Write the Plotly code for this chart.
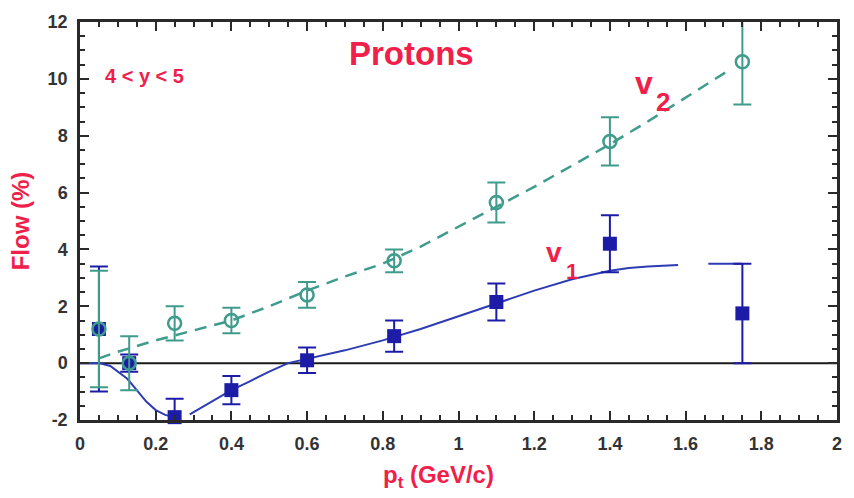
import plotly.graph_objects as go

# ---- data ----
pt = [0.05, 0.13, 0.25, 0.40, 0.60, 0.83, 1.10, 1.40, 1.75]
v1 = [1.2, 0.0, -1.9, -0.95, 0.1, 0.95, 2.15, 4.2, 1.75]
v1_err = [2.2, 0.3, 0.65, 0.5, 0.45, 0.55, 0.65, 1.0, 1.75]
v2 = [1.2, 0.0, 1.4, 1.5, 2.4, 3.6, 5.65, 7.8, 10.6]
v2_err = [2.05, 0.95, 0.6, 0.45, 0.45, 0.4, 0.7, 0.85, 1.5]

v1_curve_x = [0, 0.05, 0.08, 0.1, 0.125, 0.15, 0.175, 0.2, 0.225, 0.25, None, 0.29, 0.35, 0.4,
              0.45, 0.5, 0.55, 0.6, 0.7, 0.8, 0.9, 1.0, 1.1, 1.2, 1.3, 1.4, 1.45, 1.5, 1.58,
              None, 1.66, 1.75]
v1_curve_y = [0, 0, -0.1, -0.3, -0.55, -0.95, -1.35, -1.65, -1.82, -1.9, None, -1.8, -1.35, -0.95,
              -0.63, -0.3, 0.0, 0.15, 0.45, 0.8, 1.2, 1.65, 2.1, 2.55, 2.95, 3.25, 3.35, 3.4, 3.45,
              None, 3.5, 3.5]

v2_curve_x = [0.05, 0.1, 0.15, 0.2, 0.3, 0.4, 0.5, 0.6, 0.7, 0.8, 0.9, 1.0, 1.1, 1.2, 1.3, 1.4,
              1.5, 1.6, 1.72]
v2_curve_y = [0.17, 0.4, 0.6, 0.8, 1.15, 1.5, 2.0, 2.55, 3.05, 3.5, 4.1, 4.8, 5.5, 6.2, 6.95, 7.7,
              8.5, 9.35, 10.35]

x_tickvals = [0, 0.2, 0.4, 0.6, 0.8, 1, 1.2, 1.4, 1.6, 1.8, 2]
x_ticktext = ["0", "0.2", "0.4", "0.6", "0.8", "1", "1.2", "1.4", "1.6", "1.8", "2"]
y_tickvals = [-2, 0, 2, 4, 6, 8, 10, 12]
y_ticktext = ["-2", "0", "2", "4", "6", "8", "10", "12"]

TEAL = "#3f9c8c"
BLUE = "#1c1ca6"
BLUE_LINE = "#2e3cb4"
RED = "#f0204a"
AXC = "#2a2a2a"
FONT = "Liberation Sans"

fig = go.Figure()

# zero line
fig.add_trace(go.Scatter(x=[0, 2], y=[0, 0], mode="lines",
                         line=dict(color="#1a1a1a", width=2), hoverinfo="skip", showlegend=False))

# v1 curve
fig.add_trace(go.Scatter(x=v1_curve_x, y=v1_curve_y, mode="lines",
                         line=dict(color=BLUE_LINE, width=2), showlegend=False, connectgaps=False))
# v2 curve
fig.add_trace(go.Scatter(x=v2_curve_x, y=v2_curve_y, mode="lines",
                         line=dict(color=TEAL, width=2.5, dash="12px,8px"), showlegend=False))

# v1 points
fig.add_trace(go.Scatter(x=pt, y=v1, mode="markers",
                         marker=dict(symbol="square", size=14, color=BLUE, line=dict(width=0)),
                         error_y=dict(type="data", array=v1_err, color=BLUE, thickness=2, width=9),
                         showlegend=False, cliponaxis=False))
# v2 points
fig.add_trace(go.Scatter(x=pt, y=v2, mode="markers",
                         marker=dict(symbol="circle-open", size=13, color=TEAL, line=dict(width=2.5, color=TEAL)),
                         error_y=dict(type="data", array=v2_err, color=TEAL, thickness=2, width=9),
                         showlegend=False, cliponaxis=False))

axis_common = dict(showline=True, linecolor=AXC, linewidth=2.5, mirror="allticks",
                   ticks="inside", ticklen=9, tickwidth=2, tickcolor=AXC,
                   showgrid=False, zeroline=False,
                   tickfont=dict(family=FONT, size=18, color="#333333", weight="bold"))

fig.update_xaxes(range=[0, 2], tickvals=x_tickvals, ticktext=x_ticktext, ticklabelstandoff=6,
                 minor=dict(dtick=0.05, ticklen=5, tickwidth=1.5, tickcolor=AXC, ticks="inside"),
                 **axis_common)
fig.update_yaxes(range=[-2, 12], tickvals=y_tickvals, ticktext=y_ticktext, ticklabelstandoff=6,
                 minor=dict(dtick=0.5, ticklen=5, tickwidth=1.5, tickcolor=AXC, ticks="inside"),
                 title=dict(text="Flow (%)", standoff=12,
                            font=dict(family=FONT, size=24, color=RED, weight="bold")),
                 **axis_common)

# x-axis title (placed to match the original, slightly left of centre)
fig.add_annotation(x=0.474, y=-0.141, xref="paper", yref="paper", text="p<sub>t</sub> (GeV/c)",
                   showarrow=False, yanchor="middle",
                   font=dict(family=FONT, size=24, color=RED, weight="bold"))

fig.add_annotation(x=0.876, y=10.89, xref="x", yref="y", text="Protons", showarrow=False,
                   font=dict(family=FONT, size=33, color=RED, weight="bold"))
fig.add_annotation(x=0.061, y=10.1, xref="x", yref="y", text="4 &lt; y &lt; 5", showarrow=False,
                   xanchor="left", font=dict(family=FONT, size=20, color=RED, weight="bold"))
# v2 label
fig.add_annotation(x=1.491, y=9.86, xref="x", yref="y", text="v", showarrow=False,
                   font=dict(family=FONT, size=32, color=RED, weight="bold"))
fig.add_annotation(x=1.541, y=9.2, xref="x", yref="y", text="2", showarrow=False,
                   font=dict(family=FONT, size=26, color=RED, weight="bold"))
# v1 label
fig.add_annotation(x=1.253, y=3.89, xref="x", yref="y", text="v", showarrow=False,
                   font=dict(family=FONT, size=28, color=RED, weight="bold"))
fig.add_annotation(x=1.30, y=3.24, xref="x", yref="y", text="1", showarrow=False,
                   font=dict(family=FONT, size=22, color=RED, weight="bold"))

fig.update_layout(width=854, height=498, margin=dict(l=80, r=16, t=17, b=78),
                  paper_bgcolor="white", plot_bgcolor="white", showlegend=False)

fig.write_html("out.html")
